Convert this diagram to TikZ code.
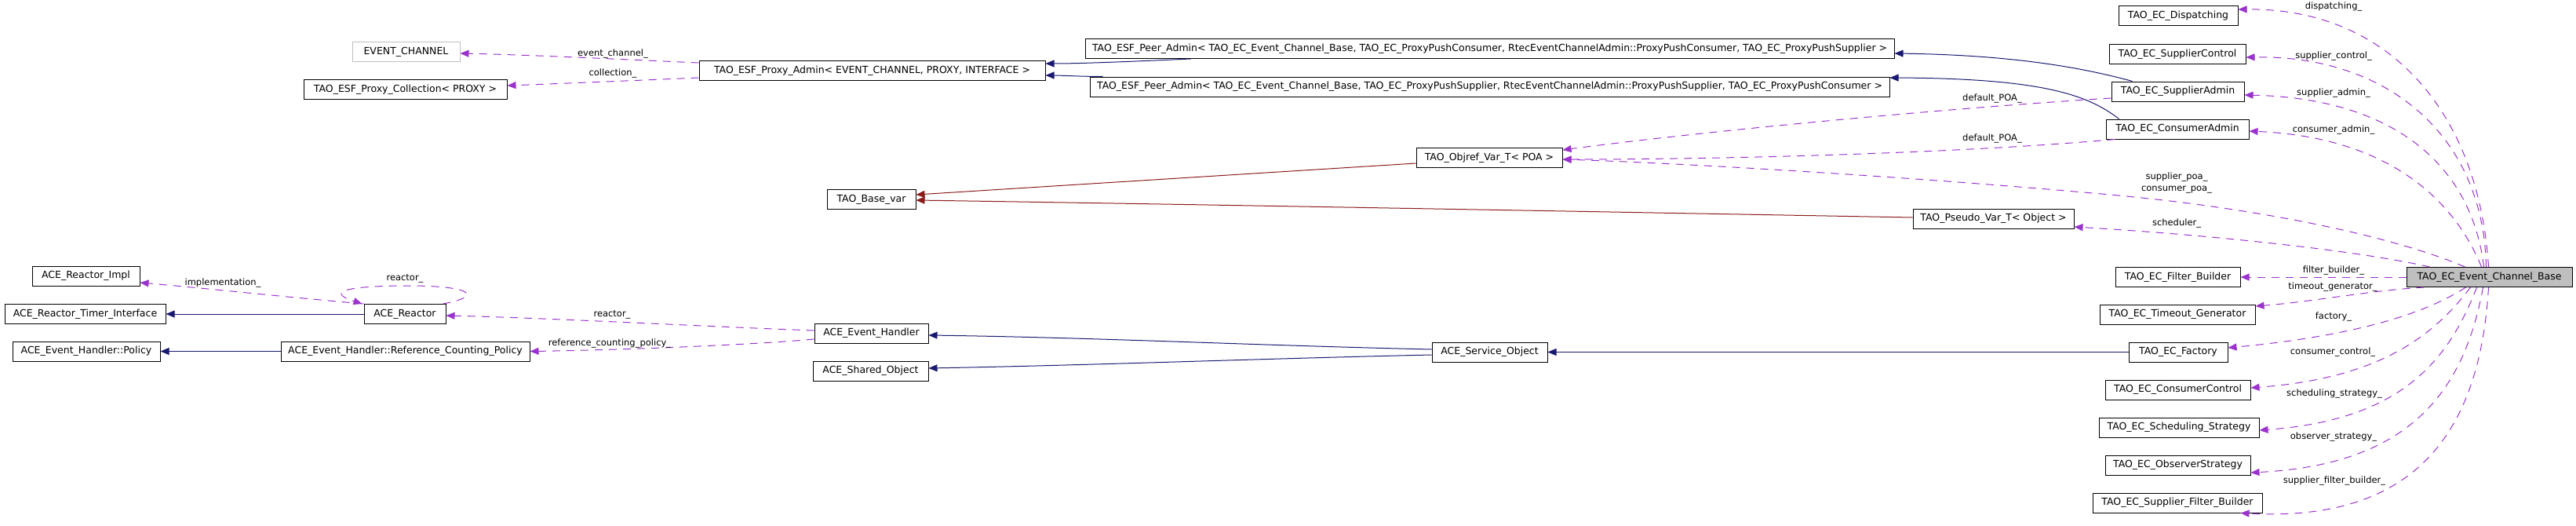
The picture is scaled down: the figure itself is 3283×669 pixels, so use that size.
\documentclass[tikz,border=0pt]{standalone}
\usepackage{fontspec}
\setmainfont{DejaVu Sans}
\usetikzlibrary{arrows.meta}
\definecolor{inhcol}{HTML}{191970}
\definecolor{tmplcol}{HTML}{8B1A1A}
\definecolor{usecol}{HTML}{9A32CD}
\definecolor{graybox}{HTML}{BFBFBF}
\tikzset{
  cls/.style={draw=black, line width=1pt, rectangle, inner sep=0pt, minimum height=25pt, fill=white, font=\fontsize{12.5}{14}\selectfont},
  ghost/.style={cls, draw=graybox},
  mainbox/.style={cls, fill=graybox},
  lbl/.style={font=\fontsize{11.5}{15}\selectfont, inner sep=0pt, align=center},
  tip/.style={-{Triangle[length=11pt,width=9pt]}},
  inh/.style={draw=inhcol, line width=1pt, tip},
  tmpl/.style={draw=tmplcol, line width=1pt, tip},
  use/.style={draw=usecol, line width=1pt, dash pattern=on 10pt off 8pt, tip}
}
\begin{document}
\begin{tikzpicture}[x=1pt,y=-1pt]
\useasboundingbox (0,0) rectangle (3283,669);
% nodes
\node[ghost, minimum width=137pt] (evch) at (517.5,66) {EVENT\_CHANNEL};
\node[cls, minimum width=259pt] (coll) at (516.5,114) {TAO\_ESF\_Proxy\_Collection< PROXY >};
\node[cls, minimum width=441pt] (padm) at (1111.5,90) {TAO\_ESF\_Proxy\_Admin< EVENT\_CHANNEL, PROXY, INTERFACE >};
\node[cls, minimum width=1031pt] (peer1) at (1898.5,62) {TAO\_ESF\_Peer\_Admin< TAO\_EC\_Event\_Channel\_Base, TAO\_EC\_ProxyPushConsumer, RtecEventChannelAdmin::ProxyPushConsumer, TAO\_EC\_ProxyPushSupplier >};
\node[cls, minimum width=1019pt] (peer2) at (1898.5,110.5) {TAO\_ESF\_Peer\_Admin< TAO\_EC\_Event\_Channel\_Base, TAO\_EC\_ProxyPushSupplier, RtecEventChannelAdmin::ProxyPushSupplier, TAO\_EC\_ProxyPushConsumer >};
\node[cls, minimum width=113pt] (basevar) at (1110.5,254) {TAO\_Base\_var};
\node[cls, minimum width=186pt] (objref) at (1898,201) {TAO\_Objref\_Var\_T< POA >};
\node[cls, minimum width=205pt] (pseudo) at (2540.5,278.5) {TAO\_Pseudo\_Var\_T< Object >};
\node[cls, minimum width=152pt] (disp) at (2776,20.5) {TAO\_EC\_Dispatching};
\node[cls, minimum width=174pt] (supctl) at (2775,69) {TAO\_EC\_SupplierControl};
\node[cls, minimum width=169pt] (supadm) at (2775.5,116.5) {TAO\_EC\_SupplierAdmin};
\node[cls, minimum width=182pt] (conadm) at (2775,164.5) {TAO\_EC\_ConsumerAdmin};
\node[mainbox, minimum width=211pt] (ecbase) at (3172.5,353) {TAO\_EC\_Event\_Channel\_Base};
\node[cls, minimum width=159pt] (filt) at (2775.5,353) {TAO\_EC\_Filter\_Builder};
\node[cls, minimum width=198pt] (tmo) at (2775,400.5) {TAO\_EC\_Timeout\_Generator};
\node[cls, minimum width=126pt] (fact) at (2776,448.5) {TAO\_EC\_Factory};
\node[cls, minimum width=185pt] (conctl) at (2775.5,496.5) {TAO\_EC\_ConsumerControl};
\node[cls, minimum width=204pt] (sched) at (2777,544.5) {TAO\_EC\_Scheduling\_Strategy};
\node[cls, minimum width=185pt] (obs) at (2775.5,592.5) {TAO\_EC\_ObserverStrategy};
\node[cls, minimum width=216pt] (sfb) at (2775,640.5) {TAO\_EC\_Supplier\_Filter\_Builder};
\node[cls, minimum width=137pt] (rimpl) at (109.5,351.5) {ACE\_Reactor\_Impl};
\node[cls, minimum width=205pt] (rti) at (108.5,400) {ACE\_Reactor\_Timer\_Interface};
\node[cls, minimum width=104pt] (reactor) at (516,400) {ACE\_Reactor};
\node[cls, minimum width=188pt] (policy) at (110,447.5) {ACE\_Event\_Handler::Policy};
\node[cls, minimum width=317pt] (rcp) at (516.5,447.5) {ACE\_Event\_Handler::Reference\_Counting\_Policy};
\node[cls, minimum width=145pt] (evh) at (1110.5,424.5) {ACE\_Event\_Handler};
\node[cls, minimum width=147pt] (shobj) at (1109.5,472.5) {ACE\_Shared\_Object};
\node[cls, minimum width=147pt] (svc) at (1898.5,448.5) {ACE\_Service\_Object};
% inheritance
\draw[inh] ([xshift=135pt]peer1.south west) .. controls (1450,78) and (1380,81) .. ([yshift=9pt]padm.east);
\draw[inh] ([xshift=17pt]peer2.north west) .. controls (1380,97.5) and (1350,96) .. ([yshift=-6pt]padm.east);
\draw[inh] ([xshift=27pt]supadm.north west) .. controls (2650,85) and (2560,70) .. ([yshift=-6pt]peer1.east);
\draw[inh] ([xshift=17pt]conadm.north west) .. controls (2660,120) and (2600,100) .. ([yshift=11.5pt]peer2.east);
\draw[inh] (reactor.west) -- (rti.east);
\draw[inh] (rcp.west) -- (policy.east);
\draw[inh] ([yshift=3.5pt]svc.west) .. controls (1600,440) and (1400,430) .. ([yshift=-2.5pt]evh.east);
\draw[inh] ([yshift=-3.5pt]svc.west) .. controls (1600,457) and (1400,465) .. ([yshift=3.5pt]shobj.east);
\draw[inh] (fact.west) -- (svc.east);
% template
\draw[tmpl] ([yshift=-7pt]objref.west) -- ([yshift=6pt]basevar.east);
\draw[tmpl] ([yshift=1.5pt]pseudo.west) .. controls (2000,269) and (1500,260) .. ([yshift=-1pt]basevar.east);
% usage
\draw[use] ([yshift=10pt]padm.west) .. controls (800,76) and (680,70) .. ([yshift=-2pt]evch.east);
\node[lbl] (l1) at (781,68) {event\_channel\_};
\draw[use] ([yshift=-9pt]padm.west) .. controls (800,103) and (700,107) .. ([yshift=5pt]coll.east);
\node[lbl] (l2) at (781,93) {collection\_};
\draw[use] (reactor.north west) .. controls (360,378) and (260,367) .. ([yshift=-8.5pt]rimpl.east);
\node[lbl] (l3) at (284,360) {implementation\_};
\draw[use] ([xshift=-4pt]reactor.north east) .. controls (615,378) and (605,364) .. (520,364) .. controls (440,364) and (415,372) .. ([xshift=-2pt]reactor.north west);
\node[lbl] (l4) at (516,355) {reactor\_};
\draw[use] ([yshift=3.5pt]evh.west) .. controls (900,416) and (700,405) .. ([yshift=-2pt]reactor.east);
\node[lbl] (l5) at (780,401) {reactor\_};
\draw[use] ([yshift=-7.5pt]evh.west) .. controls (950,440) and (780,446) .. (rcp.east);
\node[lbl] (l6) at (777,437) {reference\_counting\_policy\_};
\draw[use] ([yshift=-8.5pt]supadm.west) .. controls (2450,140) and (2150,170) .. ([yshift=10pt]objref.east);
\node[lbl] (l7) at (2539,125) {default\_POA\_};
\draw[use] ([xshift=12pt]conadm.south west) .. controls (2500,195) and (2200,203) .. ([yshift=-2pt]objref.east);
\node[lbl] (l8) at (2539,176) {default\_POA\_};
\draw[use] ([xshift=75pt]ecbase.north west) .. controls (3060,305) and (2900,268) .. (2700,249) .. controls (2450,226) and (2150,208) .. ([yshift=-2pt]objref.east);
\node[lbl] (l9) at (2774,232.5) {supplier\_poa\_\\consumer\_poa\_};
\draw[use] ([xshift=30pt]ecbase.north west) .. controls (3000,318) and (2800,298) .. ([yshift=-10.5pt]pseudo.east);
\node[lbl] (l10) at (2774,284) {scheduler\_};
\draw[use] ([xshift=105pt]ecbase.north west) .. controls (3160,150) and (3050,10) .. ([yshift=8.5pt]disp.east);
\node[lbl] (l11) at (2974,8) {dispatching\_};
\draw[use] ([xshift=102pt]ecbase.north west) .. controls (3165,170) and (3040,70) .. ([yshift=-4pt]supctl.east);
\node[lbl] (l12) at (2974,71) {supplier\_control\_};
\draw[use] ([xshift=99pt]ecbase.north west) .. controls (3150,210) and (3050,125) .. ([yshift=-4.5pt]supadm.east);
\node[lbl] (l13) at (2974,118) {supplier\_admin\_};
\draw[use] ([xshift=96pt]ecbase.north west) .. controls (3130,260) and (3050,175) .. ([yshift=-2.5pt]conadm.east);
\node[lbl] (l14) at (2974,165) {consumer\_admin\_};
\draw[use] (ecbase.west) -- (filt.east);
\node[lbl] (l15) at (2974,344) {filter\_builder\_};
\draw[use] ([xshift=23pt]ecbase.south west) .. controls (3020,370) and (2950,384) .. ([yshift=10.5pt]tmo.east);
\node[lbl] (l16) at (2973,365) {timeout\_generator\_};
\draw[use] ([xshift=76pt]ecbase.south west) .. controls (3090,400) and (3000,428) .. ([yshift=5.5pt]fact.east);
\node[lbl] (l17) at (2974,403) {factory\_};
\draw[use] ([xshift=82pt]ecbase.south west) .. controls (3100,430) and (3030,482) .. ([yshift=2.5pt]conctl.east);
\node[lbl] (l18) at (2973,448) {consumer\_control\_};
\draw[use] ([xshift=90pt]ecbase.south west) .. controls (3120,460) and (3060,535) .. ([yshift=-3.5pt]sched.east);
\node[lbl] (l19) at (2975,501) {scheduling\_strategy\_};
\draw[use] ([xshift=98pt]ecbase.south west) .. controls (3140,500) and (3070,592) .. ([yshift=-9.5pt]obs.east);
\node[lbl] (l20) at (2974,556) {observer\_strategy\_};
\draw[use] ([xshift=105pt]ecbase.south west) .. controls (3160,560) and (3070,665) .. ([xshift=-28pt]sfb.south east);
\node[lbl] (l21) at (2975,612) {supplier\_filter\_builder\_};
\end{tikzpicture}
\end{document}
